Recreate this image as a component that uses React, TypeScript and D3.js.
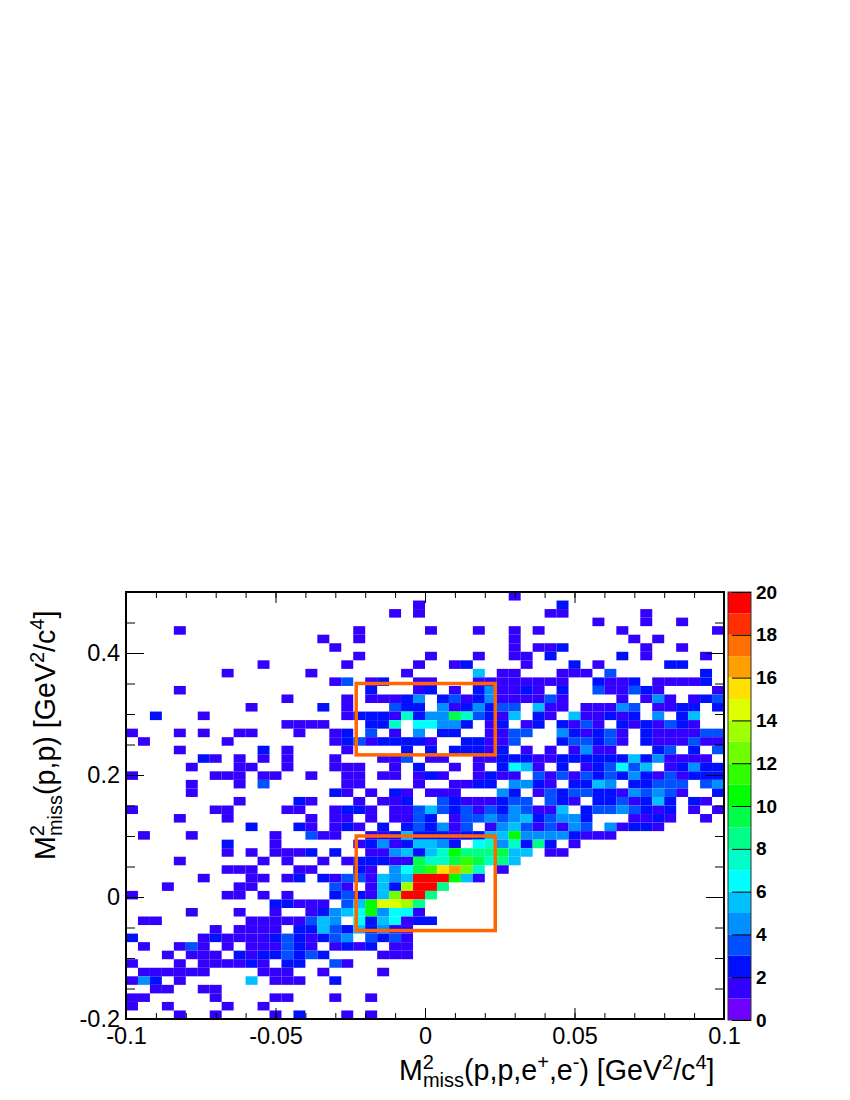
import React, {useEffect, useRef} from 'react';
import * as d3 from 'd3';

// counts per bin, one line per row from the top, written as "firstColumn:values" (a=10 ... k=20)
const rowCounts: string[] = [
  "32:1",
  "24:1 36:2",
  "22:1 24:1 35:11 43:1",
  "39:1 43:1 46:1",
  "4:1 19:1 25:1 29:1 32:1 34:1 41:1 49:1",
  "16:1 19:1 32:1 42:1 44:1",
  "17:1 32:1 34:112 43:1 46:1",
  "19:1 25:1 29:1 32:11 35:2 41:2 43:1 48:1",
  "11:1 18:1 24:1 27:12 33:1 37:2 39:1 45:22",
  "8:1 15:1 23:1 29:5 31:11 36:111 40:3 48:2",
  "17:13 20:12 24:11 29:11 31:111111 39:2 40:11 42:2 44:1111 48:2",
  "4:1 20:2 24:12 27:1 29:24 31:11 33:2 34:1 36:2 39:3 40:11 42:3 43:2 44:1 49:1",
  "13:1 18:1 20:111 23:24 26:23 28:1 29:24 31:1111 35:3 36:1 41:1 43:141 47:123",
  "10:1 16:2 18:1 22:322 26:41 28:2 29:42 31:33 34:5 35:11 38:111 41:43 44:11 46:22 49:2",
  "2:2 6:1 18:12 20:22 22:1 23:72 25:44 27:97 29:32 31:1 32:5 34:21 37:511 40:2 41:12 44:4 46:25",
  "13:1111 20:22 22:7 24:66 26:44 28:2 30:12 33:12 36:21 38:31 41:2121321",
  "0:1 4:1 6:1 9:11 14:1 17:12 20:3 22:1 24:4 26:22 30:1133 36:421231 43:21111 48:33",
  "1:1 8:1 17:123122221 28:22113 36:233231 43:2111311",
  "4:1 11:2 13:1 18:1 23:2 25:2 27:222 30:12 33:1 35:1 37:1411 44:23 47:2 49:3",
  "6:21 9:1 11:1 13:1 17:1 21:11 23:3 25:11 29:11 31:222112222225241111",
  "5:1 9:11 13:1 17:111 22:1 24:2 27:1 29:1 31:2651 36:2 38:123635 45:12422",
  "0:1 7:11 9:1 11:11 15:1 18:11 21:11 24:121 29:12 31:11 34:3131323242131222",
  "5:1 9:1 11:3 18:11 24:1 27:11 29:22 32:4421 37:22 39:54 42:22 44:333 48:34",
  "5:1 17:21 20:1 22:21 25:111 31:42 34:1323322143431 49:2",
  "9:1 14:21 19:1 21:11 23:2 26:32 28:111 31:233 35:321 39:22 41:3 42:1 43:2 44:5 45:2 47:21",
  "0:1 7:11 13:11 17:1 18:22 20:1 22:11 24:35 26:32313243115 38:23343212 47:1 49:1",
  "4:1 8:1 15:1 17:11 20:1 22:11 24:32 27:133434523442 42:11 44:21 48:1",
  "10:2 14:21 17:121 21:2 23:232413 30:145313143 40:41221",
  "1:1 5:1 12:1 15:311 20:11 22:2 23:5 24:2221 28:22 30:55 32:a 33:4444 37:2 38:111",
  "8:2 12:1 19:124125542 29:6747282 37:1",
  "8:1 10:1 12:111 15:2 17:2 20:11 22:45 24:2 25:57a 28:888 31:955 35:11",
  "4:1 11:1 13:1 16:1 18:1 19:222 22:11 24:9 25:77 27:9 28:b 29:9 30:7 31:8 32:5",
  "8:111 14:11 19:21 22:46 24:9 25:b 26:f 27:g 28:c 29:7 31:1",
  "6:1 10:11 13:12 16:213 19:3 20:1 21:545 24:kkk 27:a 28:5 29:1",
  "3:1 9:11 17:31 20:1 21:52 23:d 24:kk 26:8",
  "0:1 8:11 11:1 13:1 17:2321 21:5 22:c 23:k 24:k 25:8",
  "12:22 14:111 18:35 20:a 21:ee 23:d 24:8",
  "5:1 9:1 12:1 15:12456a4661",
  "1:11 10:11111 15:354 19:6 20:2 21:561 24:22",
  "7:1 9:1111 14:22 16:5325 20:2 21:411",
  "0:2 6:12 8:1111 12:2321 16:234 20:3231",
  "1:1 4:131 8:1 10:111 13:321 17:1212 22:11",
  "3:1 5:111 9:21 11:22 13:3 14:2 15:32 21:111",
  "0:1 4:1 6:1111 10:21 13:22 17:31",
  "1:111111 11:111 16:1 21:1",
  "0:142 4:1 10:5 12:111 17:2",
  "2:11 6:11",
  "0:11 7:1 12:11 17:1 20:1",
  "0:1 3:1 8:1 11:1",
  "4:1 7:1 12:1 14:2 18:1 20:1",
];

const paletteColors = [
  "#7000ff", "#3300ff", "#0010ff", "#0050ff", "#0090ff",
  "#00c0ff", "#00ffff", "#00ffc8", "#00ff88", "#00ff48",
  "#00ff00", "#30ff00", "#70ff00", "#a0ff00", "#ddff00",
  "#ffe000", "#ffa000", "#ff7000", "#ff3000", "#ff0000",
];

const xLabels = ["-0.1", "-0.05", "0", "0.05", "0.1"];
const xMajorTicks = [-0.1, -0.05, 0, 0.05, 0.1];
const xMinorTicks = d3.range(-10, 11).map(d => d / 100);
const yLabels = ["-0.2", "0", "0.2", "0.4"];
const yMajorTicks = [-0.2, 0, 0.2, 0.4];
const yMinorTicks = d3.range(-4, 11).map(d => d / 20);
const zTicks = [0, 2, 4, 6, 8, 10, 12, 14, 16, 18, 20];

// signal windows, in axis units
const boxesX = [-0.023, 0.0235];
const boxesY = [[0.233, 0.35], [-0.055, 0.1]];

const nBins = 50;
const font = "'Liberation Sans', Arial, sans-serif";

function Chart() {
  const ref = useRef<SVGSVGElement | null>(null);

  useEffect(() => {
    const svg = d3.select(ref.current);
    svg.selectAll("*").remove();

    const margin = {top: 592, left: 126, right: 724, bottom: 1019};
    const xScale = d3.scaleLinear().domain([-0.1, 0.1]).range([margin.left, margin.right]);
    const yScale = d3.scaleLinear().domain([-0.2, 0.5]).range([margin.bottom, margin.top]);
    const zScale = d3.scaleLinear().domain([0, 20]).range([margin.bottom + 1, margin.top]);
    const color = d3.scaleThreshold<number, string>().domain(d3.range(1, 20)).range(paletteColors);

    const xWidth = 0.2 / nBins;
    const yWidth = 0.7 / nBins;

    // unpack the rows
    const cells: {col: number, row: number, v: number}[] = [];
    rowCounts.forEach((line, row) => {
      line.split(" ").forEach(part => {
        const [start, vals] = part.split(":");
        vals.split("").forEach((c, k) => {
          cells.push({col: +start + k, row, v: parseInt(c, 36)});
        });
      });
    });

    svg.append("g").selectAll("rect").data(cells).join("rect")
      .attr("x", d => xScale(-0.1 + d.col * xWidth))
      .attr("y", d => yScale(0.5 - d.row * yWidth))
      .attr("width", xScale(xWidth) - xScale(0))
      .attr("height", yScale(0) - yScale(yWidth))
      .attr("fill", d => color(d.v));

    // axes, ticks point inwards on all four sides
    const drawAxis = (axis: any, tx: number, ty: number, len: number, minor: number[], major: number[], labels: string[] | null, pad: number, minorLen: number) => {
      const a1 = svg.append("g").attr("transform", `translate(${tx}, ${ty})`)
        .call(axis.tickValues(minor).tickSize(-minorLen).tickFormat(() => ""));
      const a2 = svg.append("g").attr("transform", `translate(${tx}, ${ty})`)
        .call(axis.tickValues(major).tickSize(-len).tickPadding(pad).tickFormat((d: number) => labels ? labels[major.indexOf(d)] : ""));
      [a1, a2].forEach(a => {
        a.select(".domain").remove();
        a.selectAll("line").attr("stroke", "#000").attr("stroke-width", 1);
        a.selectAll("text").attr("font-family", font).attr("font-size", 23.5).attr("fill", "#000");
      });
    };
    drawAxis(d3.axisBottom(xScale), 0, margin.bottom, 11, xMinorTicks, xMajorTicks, xLabels, 8, 6);
    drawAxis(d3.axisTop(xScale), 0, margin.top, 11, xMinorTicks, xMajorTicks, null, 0, 6);
    drawAxis(d3.axisLeft(yScale), margin.left, 0, 18, yMinorTicks, yMajorTicks, yLabels, 6, 9);
    drawAxis(d3.axisRight(yScale), margin.right, 0, 18, yMinorTicks, yMajorTicks, null, 0, 9);

    svg.append("rect")
      .attr("x", margin.left).attr("y", margin.top)
      .attr("width", margin.right - margin.left).attr("height", margin.bottom - margin.top)
      .attr("fill", "none").attr("stroke", "#000").attr("stroke-width", 2);

    // orange windows
    boxesY.forEach(b => {
      svg.append("rect")
        .attr("x", xScale(boxesX[0])).attr("y", yScale(b[1]))
        .attr("width", xScale(boxesX[1]) - xScale(boxesX[0])).attr("height", yScale(b[0]) - yScale(b[1]))
        .attr("fill", "none").attr("stroke", "#ff6600").attr("stroke-width", 3.5);
    });

    // palette
    const palLeft = 728, palRight = 751;
    svg.append("g").selectAll("rect").data(paletteColors).join("rect")
      .attr("x", palLeft)
      .attr("y", (d, i) => zScale(i + 1))
      .attr("width", palRight - palLeft)
      .attr("height", (d, i) => zScale(i) - zScale(i + 1))
      .attr("fill", d => d);
    svg.append("rect")
      .attr("x", palLeft).attr("y", margin.top)
      .attr("width", palRight - palLeft).attr("height", margin.bottom + 1 - margin.top)
      .attr("fill", "none").attr("stroke", "#333").attr("stroke-width", 1);
    const zAxis = svg.append("g").attr("transform", `translate(${palRight}, 0)`)
      .call(d3.axisRight(zScale).tickValues(zTicks).tickSize(-19).tickPadding(5).tickFormat(d => String(d)));
    zAxis.select(".domain").remove();
    zAxis.selectAll("line").attr("stroke", "#000");
    zAxis.selectAll("text").attr("font-family", font).attr("font-size", 19).attr("font-weight", "bold").attr("fill", "#000");

    // axis titles
    const xTitle = svg.append("text").attr("x", 399).attr("y", 1080)
      .attr("font-family", font).attr("font-size", 28.6).attr("fill", "#000");
    xTitle.append("tspan").text("M");
    xTitle.append("tspan").attr("font-size", 20).attr("dy", -11).text("2");
    xTitle.append("tspan").attr("font-size", 20).attr("dy", 18).attr("dx", -11).text("miss");
    xTitle.append("tspan").attr("dy", -7).text("(p,p,e");
    xTitle.append("tspan").attr("font-size", 20).attr("dy", -11).text("+");
    xTitle.append("tspan").attr("dy", 11).text(",e");
    xTitle.append("tspan").attr("font-size", 20).attr("dy", -11).text("-");
    xTitle.append("tspan").attr("dy", 11).text(") [GeV");
    xTitle.append("tspan").attr("font-size", 20).attr("dy", -11).text("2");
    xTitle.append("tspan").attr("dy", 11).text("/c");
    xTitle.append("tspan").attr("font-size", 20).attr("dy", -11).text("4");
    xTitle.append("tspan").attr("dy", 11).text("]");

    const yTitle = svg.append("text").attr("transform", "translate(55, 860) rotate(-90)")
      .attr("font-family", font).attr("font-size", 28.6).attr("fill", "#000");
    yTitle.append("tspan").text("M");
    yTitle.append("tspan").attr("font-size", 20).attr("dy", -11).text("2");
    yTitle.append("tspan").attr("font-size", 20).attr("dy", 18).attr("dx", -11).text("miss");
    yTitle.append("tspan").attr("dy", -7).text("(p,p) [GeV");
    yTitle.append("tspan").attr("font-size", 20).attr("dy", -11).text("2");
    yTitle.append("tspan").attr("dy", 11).text("/c");
    yTitle.append("tspan").attr("font-size", 20).attr("dy", -11).text("4");
    yTitle.append("tspan").attr("dy", 11).text("]");
  }, []);

  return <svg ref={ref} width={850} height={1100} style={{position: "absolute", left: 0, top: 0, background: "#fff"}}></svg>;
}

export default function App() {
  return <Chart />;
}
